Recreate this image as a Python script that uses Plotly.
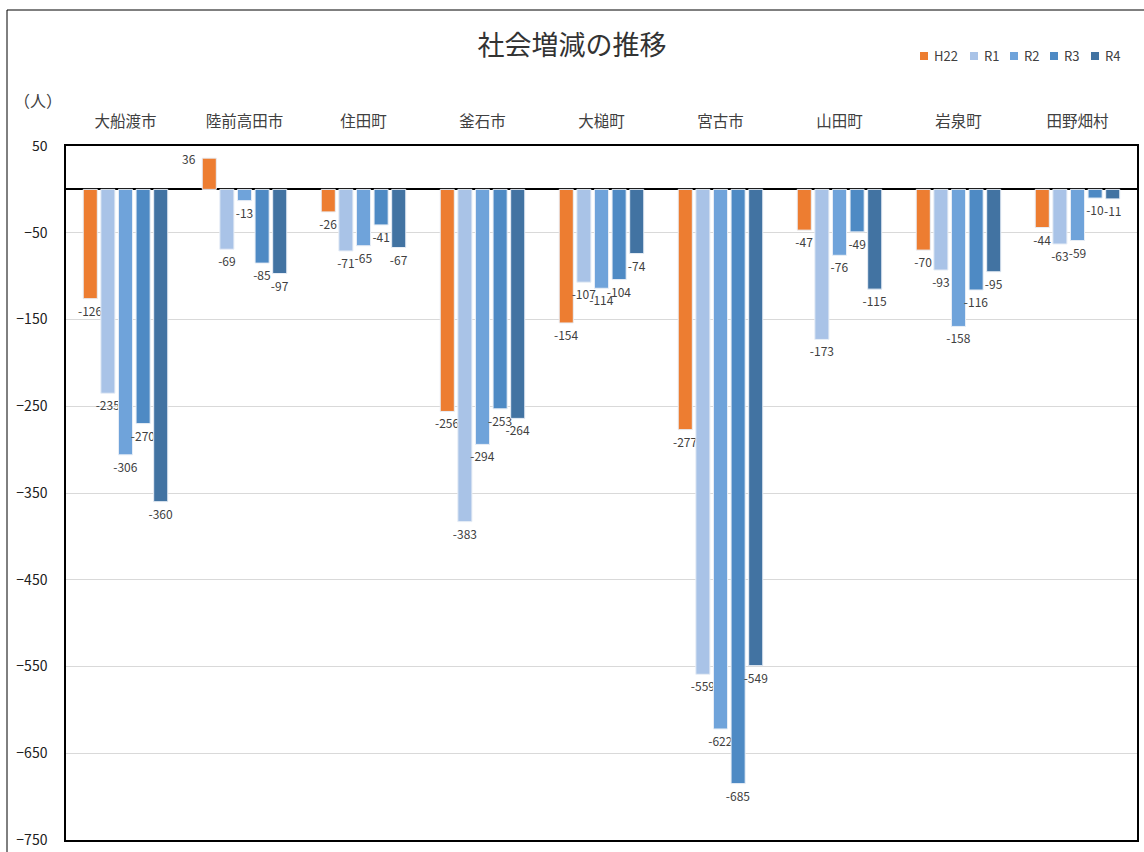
import plotly.graph_objects as go

categories = ["大船渡市", "陸前高田市", "住田町", "釜石市", "大槌町", "宮古市", "山田町", "岩泉町", "田野畑村"]
series_names = ["H22", "R1", "R2", "R3", "R4"]
h22 = [-126, 36, -26, -256, -154, -277, -47, -70, -44]
r1 = [-235, -69, -71, -383, -107, -559, -173, -93, -63]
r2 = [-306, -13, -65, -294, -114, -622, -76, -158, -59]
r3 = [-270, -85, -41, -253, -104, -685, -49, -116, -10]
r4 = [-360, -97, -67, -264, -74, -549, -115, -95, -11]
tick_vals = [50, -50, -150, -250, -350, -450, -550, -650, -750]

colors = ["#ED7D31", "#A9C3E7", "#6FA3DA", "#4E8AC4", "#4273A2"]
FONT = "Noto Sans CJK JP"

W, H = 1144, 852
ML, MR, MT, MB = 66, 7, 146, 12
PW, PH = W - ML - MR, H - MT - MB
BARGAP = 0.26
SLOT_PX = PW / len(categories) * (1 - BARGAP) / len(series_names)


def px_x(px):
    return (px - ML) / PW


def px_y(py):
    return (H - MB - py) / PH


fig = go.Figure()
for i, (name, vals, col) in enumerate(zip(series_names, [h22, r1, r2, r3, r4], colors)):
    fig.add_trace(go.Bar(
        name=name, x=categories, y=vals,
        marker=dict(color=col, line=dict(color="#E8EEF6", width=1)),
        text=[str(v) for v in vals],
        textposition=["outside" if v < 0 else "none" for v in vals],
        constraintext="none",
        textfont=dict(size=12, color="#404040", family=FONT),
        cliponaxis=False, showlegend=False,
    ))
    # positive values: label placed to the left of the bar top, as in the reference
    for c, v in zip(categories, vals):
        if v >= 0:
            fig.add_annotation(text=str(v), x=c, y=v, xref="x", yref="y",
                               xanchor="right", yanchor="middle", showarrow=False,
                               xshift=(i - 2) * SLOT_PX - SLOT_PX / 2 - 2,
                               font=dict(size=12, color="#404040", family=FONT))

fig.update_layout(
    width=W, height=H,
    paper_bgcolor="white", plot_bgcolor="white",
    barmode="group", bargap=BARGAP, bargroupgap=0.2,
    margin=dict(l=ML, r=MR, t=MT, b=MB, autoexpand=False),
    font=dict(family=FONT, color="#404040"),
    title=dict(text="社会増減の推移", x=0.5, xref="container", y=1 - 46 / H, yanchor="middle",
               font=dict(size=27, color="#333333", family=FONT)),
    xaxis=dict(side="top", showline=True, mirror=True, linecolor="black", linewidth=1.5,
               ticks="outside", ticklen=11, tickcolor="rgba(0,0,0,0)", automargin=False,
               tickfont=dict(size=15.5, color="#404040", family=FONT)),
    yaxis=dict(range=[-750, 50], tickvals=tick_vals, showgrid=True, gridcolor="#D9D9D9",
               showline=True, mirror=True, linecolor="black", linewidth=1.5,
               zeroline=True, zerolinecolor="black", zerolinewidth=1.5, automargin=False,
               ticks="outside", ticklen=14, tickcolor="rgba(0,0,0,0)",
               tickfont=dict(size=14, color="#202020", family=FONT)),
    showlegend=False,
)

# legend (drawn as small squares + labels, matching the reference's compact legend)
legend_square_px = [920, 970, 1010, 1050, 1091]
legend_y_px = 56
for name, col, sx in zip(series_names, colors, legend_square_px):
    fig.add_shape(type="rect", xref="paper", yref="paper",
                  xsizemode="pixel", ysizemode="pixel",
                  xanchor=px_x(sx), yanchor=px_y(legend_y_px),
                  x0=0, x1=8, y0=-4, y1=4,
                  fillcolor=col, line=dict(width=0))
    fig.add_annotation(text=name, xref="paper", yref="paper",
                       x=px_x(sx + 12), y=px_y(legend_y_px), xanchor="left", yanchor="middle",
                       showarrow=False, font=dict(size=13, color="#404040", family=FONT))

fig.add_annotation(text="（人）", xref="paper", yref="paper", x=px_x(38), y=px_y(100),
                   xanchor="center", yanchor="middle",
                   showarrow=False, font=dict(size=16, color="#404040", family=FONT))
# outer chart border
fig.add_shape(type="rect", xref="paper", yref="paper",
              x0=px_x(7), x1=px_x(1150), y0=px_y(860), y1=px_y(10),
              line=dict(color="black", width=1), layer="below")

fig.write_html("out.html", config={"displayModeBar": False},
               post_script="document.body.style.margin='0';")
